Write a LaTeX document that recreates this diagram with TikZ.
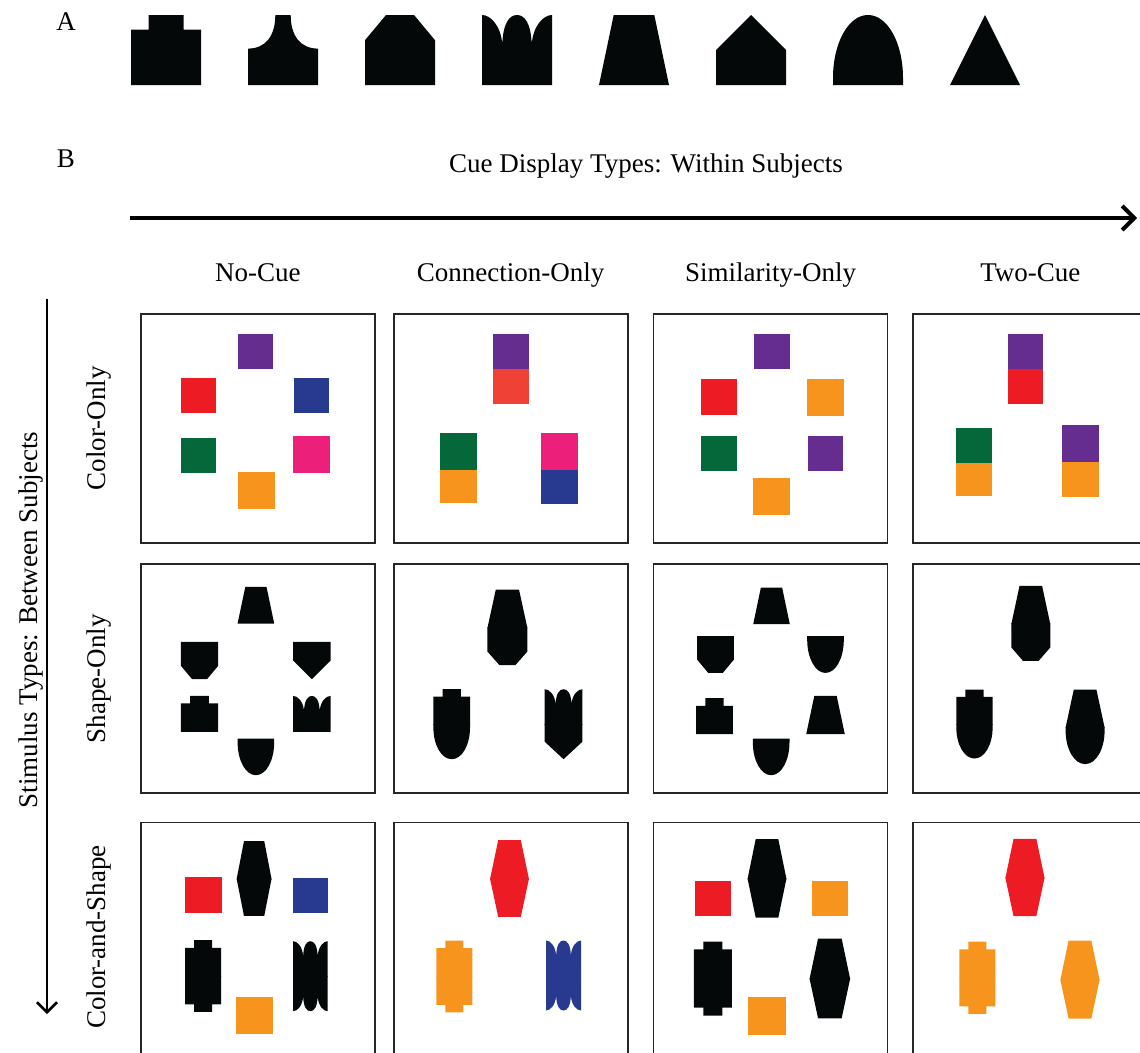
\documentclass[tikz,border=0pt]{standalone}
\usepackage{fontspec}
\setmainfont{Liberation Serif}
\usetikzlibrary{matrix,arrows.meta,positioning}

\definecolor{cpurple}{HTML}{662D91}
\definecolor{cred}{HTML}{ED1C24}
\definecolor{cpale}{HTML}{EF4136}
\definecolor{cblue}{HTML}{283A90}
\definecolor{cgreen}{HTML}{05683A}
\definecolor{cpink}{HTML}{EC207B}
\definecolor{corange}{HTML}{F7941E}
\definecolor{cblack}{HTML}{050808}

% half shapes in a unit box, feature on top, flat edge at the bottom
\tikzset{
  hnotch/.style={insert path={(0,1) -- (0,0.21) -- (0.25,0.21) -- (0.25,0) -- (0.75,0) -- (0.75,0.21) -- (1,0.21) -- (1,1) -- cycle}},
  hneck/.style={insert path={(0,1) -- (0,0.48) .. controls (0.25,0.48) and (0.39,0.3) .. (0.39,0) -- (0.61,0) .. controls (0.61,0.3) and (0.75,0.48) .. (1,0.48) -- (1,1) -- cycle}},
  hcham/.style={insert path={(0,1) -- (0,0.36) -- (0.3,0) -- (0.7,0) -- (1,0.36) -- (1,1) -- cycle}},
  hcrown/.style={insert path={(0,1) -- (0,0) .. controls (0.12,0) and (0.27,0.15) .. (0.29,0.42) .. controls (0.3,0.12) and (0.39,0) .. (0.5,0) .. controls (0.61,0) and (0.7,0.12) .. (0.71,0.42) .. controls (0.73,0.15) and (0.88,0) .. (1,0) -- (1,1) -- cycle}},
  htrap/.style={insert path={(0,1) -- (0.21,0) -- (0.79,0) -- (1,1) -- cycle}},
  hhouse/.style={insert path={(0,1) -- (0,0.5) -- (0.5,0) -- (1,0.5) -- (1,1) -- cycle}},
  harch/.style={insert path={(0,1) -- (0,0.9) .. controls (0,0.4) and (0.22,0) .. (0.5,0) .. controls (0.78,0) and (1,0.4) .. (1,0.9) -- (1,1) -- cycle}},
  htri/.style={insert path={(0,1) -- (0.5,0) -- (1,1) -- cycle}}
}

\newcommand{\sq}[5]{\fill[#5] (#1,#2) rectangle ++(#3,#4);}
\newcommand{\tophalf}[6]{\fill[#6, shift={(#2,#3)}, xscale=#4, yscale=#5, #1];}
\newcommand{\bothalf}[6]{\fill[#6, shift={(#2,#3+#5)}, xscale=#4, yscale=-#5, #1];}
% top half a little longer so that no seam shows
\newcommand{\joined}[7]{\bothalf{#2}{#3}{#4+#6}{#5}{#6}{#7}\tophalf{#1}{#3}{#4}{#5}{#6+0.8}{#7}}

\begin{document}
\begin{tikzpicture}[x=1pt, y=-1pt,
  panel/.style={draw=black!85, line width=1.8pt, minimum width=234pt, minimum height=229pt, inner sep=0pt, outer sep=0pt},
  lbl/.style={font=\fontsize{27}{32}\selectfont, inner sep=0pt, text height=19pt, text depth=6pt},
  harrow/.style={line width=4pt, -{Straight Barb[length=12pt,width=24pt]}},
  varrow/.style={line width=2.5pt, -{Straight Barb[length=10pt,width=20pt]}}]
 \useasboundingbox (0,0) rectangle (1140,1052);
 \clip (0,0) rectangle (1140,1052);

 % part A
 \node[lbl, anchor=base] (la) at (66,30) {A};
 \foreach \k [count=\i from 0] in {hnotch,hneck,hcham,hcrown,htrap,hhouse,harch,htri}
  {\tophalf{\k}{131+117*\i}{15}{70}{70}{cblack}}

 % part B
 \node[lbl, anchor=base] (lb) at (66,167) {B};
 \node[lbl, anchor=base] (title) at (646,172) {Cue Display Types: Within Subjects};
 \coordinate (hs) at (130,218);
 \coordinate (he) at (1137,218);
 \draw[harrow] (hs) -- (he);

 \matrix (m) [matrix of nodes, nodes in empty cells, nodes={panel}, column sep=17pt, row sep=19.5pt,
   anchor=north west, inner sep=0pt, outer sep=0pt] at (140,313)
  {
    & &[7pt] &[7pt] \\
    & &[7pt] &[7pt] \\[8pt]
    |[minimum height=245pt]| & |[minimum height=245pt]| &[7pt] |[minimum height=245pt]| &[7pt] |[minimum height=245pt]| \\
  };

 \foreach \c/\t in {1/No-Cue, 2/Connection-Only, 3/Similarity-Only, 4/Two-Cue}
  \node[lbl, above=26pt of m-1-\c] (col\c) {\t};
 \foreach \r/\t in {1/Color-Only, 2/Shape-Only}
  \node[lbl, rotate=90, anchor=south] (row\r) at ([xshift=-29pt]m-\r-1.west) {\t};
 \node[lbl, rotate=90, anchor=south] (row3) at ([xshift=-29pt, yshift=8pt]m-3-1.west) {Color-and-Shape};
 \node[lbl, rotate=90] (stim) at (31,620) {Stimulus Types: Between Subjects};
 \coordinate (vs) at (47,299);
 \coordinate (ve) at (47,1014);
 \draw[varrow] (vs) -- (ve);

 % color only
 \begin{scope}[shift={(m-1-1.north west)}]
  \sq{97.3}{19.7}{35}{35}{cpurple}
  \sq{40}{63.7}{35}{35}{cred}
  \sq{153.3}{63.7}{35}{35}{cblue}
  \sq{40}{123.7}{35}{35}{cgreen}
  \sq{151.7}{121.7}{37}{37}{cpink}
  \sq{97.3}{157.7}{37}{37}{corange}
 \end{scope}
 \begin{scope}[shift={(m-1-2.north west)}]
  \sq{99.7}{19.7}{35.3}{35.3}{cpurple}
  \sq{99.7}{55}{35.3}{35.3}{cpale}
  \sq{46.3}{118.7}{37.4}{37.3}{cgreen}
  \sq{46.3}{156}{37.4}{33.3}{corange}
  \sq{147}{118.7}{37.3}{37.3}{cpink}
  \sq{147}{156}{37.3}{34.3}{cblue}
 \end{scope}
 \begin{scope}[shift={(m-1-3.north west)}]
  \sq{100.7}{19.7}{35.3}{35.3}{cpurple}
  \sq{47.7}{65.3}{35.3}{35.3}{cred}
  \sq{153}{65.3}{37}{37}{corange}
  \sq{47.7}{121.7}{35.3}{35.3}{cgreen}
  \sq{154}{121.7}{35.3}{35.3}{cpurple}
  \sq{99.7}{164.3}{37}{37}{corange}
 \end{scope}
 \begin{scope}[shift={(m-1-4.north west)}]
  \sq{94.7}{19.7}{35.3}{35.3}{cpurple}
  \sq{94.7}{55}{35.3}{35.3}{cred}
  \sq{43}{114}{35.3}{35.3}{cgreen}
  \sq{43}{149.3}{35.3}{32.7}{corange}
  \sq{148.3}{111.3}{37.4}{37}{cpurple}
  \sq{148.3}{148.3}{37.4}{34.7}{corange}
 \end{scope}

 % shape only
 \begin{scope}[shift={(m-2-1.north west)}]
  \tophalf{htrap}{96.7}{22.7}{36.6}{36.6}{cblack}
  \bothalf{hcham}{40}{77.7}{37.3}{37.3}{cblack}
  \bothalf{hhouse}{152.3}{77.7}{37.3}{37.3}{cblack}
  \tophalf{hnotch}{40}{131.7}{37.3}{36}{cblack}
  \tophalf{hcrown}{152.3}{131.7}{37.3}{36}{cblack}
  \bothalf{harch}{96.7}{174.3}{36.6}{36.7}{cblack}
 \end{scope}
 \begin{scope}[shift={(m-2-2.north west)}]
  \joined{htrap}{hcham}{93.7}{25.3}{40}{37.8}{cblack}
  \joined{hnotch}{harch}{39.7}{125}{36.6}{35}{cblack}
  \joined{hcrown}{hhouse}{151}{125}{37.7}{35}{cblack}
 \end{scope}
 \begin{scope}[shift={(m-2-3.north west)}]
  \tophalf{htrap}{99.7}{23.3}{36.6}{36.7}{cblack}
  \bothalf{hcham}{43.7}{72}{36.6}{36.7}{cblack}
  \bothalf{harch}{153.7}{72}{36.6}{36.7}{cblack}
  \tophalf{hnotch}{42.7}{134}{36.6}{36}{cblack}
  \tophalf{htrap}{152.7}{131.7}{38.6}{38.3}{cblack}
  \bothalf{harch}{99.3}{174.3}{36.7}{36.7}{cblack}
 \end{scope}
 \begin{scope}[shift={(m-2-4.north west)}]
  \joined{htrap}{hcham}{98}{21.7}{39}{37.5}{cblack}
  \joined{hnotch}{harch}{43}{125.3}{36.3}{34.5}{cblack}
  \joined{htrap}{harch}{152.3}{125.3}{39}{37.3}{cblack}
 \end{scope}

 % color and shape
 \begin{scope}[shift={(m-3-1.north west)}]
  \sq{44}{54.3}{36.7}{36.4}{cred}
  \joined{htrap}{htrap}{95.7}{18.7}{35}{37.3}{cblack}
  \sq{151.7}{55}{35.3}{35.3}{cblue}
  \joined{hnotch}{hnotch}{44.3}{117.7}{36}{35.8}{cblack}
  \sq{94.7}{174.7}{37}{37}{corange}
  \joined{hcrown}{hcrown}{152.3}{118.7}{34.4}{35}{cblack}
 \end{scope}
 \begin{scope}[shift={(m-3-2.north west)}]
  \joined{htrap}{htrap}{96.3}{17.7}{39}{38.3}{cred}
  \joined{hnotch}{hnotch}{42.7}{118}{36}{35.9}{corange}
  \joined{hcrown}{hcrown}{152.3}{118}{35}{35}{cblue}
 \end{scope}
 \begin{scope}[shift={(m-3-3.north west)}]
  \sq{41.3}{58.3}{35.7}{35}{cred}
  \joined{htrap}{htrap}{94}{16.7}{39}{39.2}{cblack}
  \sq{158.7}{58.3}{35.6}{35}{corange}
  \joined{hnotch}{hnotch}{40.3}{119}{38}{37}{cblack}
  \sq{94.7}{174.7}{37.6}{37.3}{corange}
  \joined{htrap}{htrap}{156}{116}{40.7}{39.9}{cblack}
 \end{scope}
 \begin{scope}[shift={(m-3-4.north west)}]
  \joined{htrap}{htrap}{92}{16.3}{39.3}{38.7}{cred}
  \joined{hnotch}{hnotch}{46}{119}{36}{36.2}{corange}
  \joined{htrap}{htrap}{147}{118}{39.3}{39}{corange}
 \end{scope}
\end{tikzpicture}
\end{document}
